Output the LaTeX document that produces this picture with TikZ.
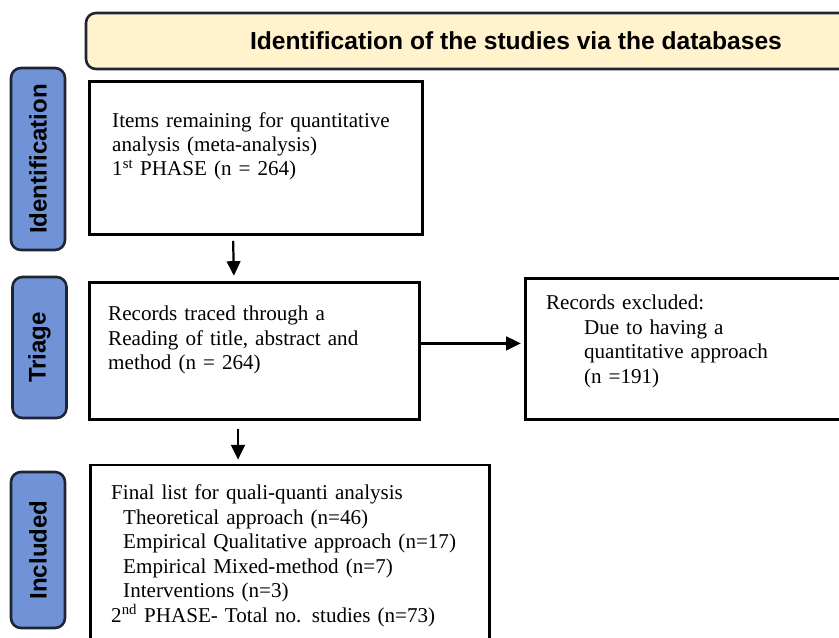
\documentclass[tikz,border=0pt]{standalone}
\usepackage{fontspec}
\setmainfont{Liberation Serif}
\newfontfamily\labelfont{Liberation Sans}
\usepackage{tikz}
\usetikzlibrary{arrows.meta,positioning,calc}

\definecolor{headfill}{RGB}{255,242,204}
\definecolor{sidefill}{RGB}{112,146,214}
\definecolor{sidedraw}{RGB}{30,36,52}

\begin{document}
\begin{tikzpicture}[
  x=0.03cm, y=-0.03cm,
  box/.style={draw, line width=2.4pt, anchor=north west, inner sep=0pt},
  txt/.style={anchor=base west, inner sep=0pt, align=left, text width=11.5cm,
    font=\fontsize{18}{20.9}\selectfont},
  side/.style={draw=sidedraw, line width=2.2pt, fill=sidefill, rounded corners=0.3cm,
    rotate=90, minimum height=1.62cm, font=\labelfont\bfseries\fontsize{20.5}{24}\selectfont},
  head/.style={draw=sidedraw, line width=2.2pt, fill=headfill, rounded corners=0.3cm,
    minimum width=25.8cm, minimum height=1.68cm, font=\labelfont\bfseries\fontsize{21}{25}\selectfont},
  arrow/.style={-{Triangle[length=0.44cm, width=0.41cm]}, line width=1.9pt}
]
  \useasboundingbox (0,0) rectangle (839,637);
  \clip (0,0) rectangle (839,637);

  % Header
  \node[head] (head) at (516,41) {Identification of the studies via the databases};

  % Phase labels
  \node[side, minimum width=5.46cm] (ident) at (38,159) {Identification};
  \node[side, minimum width=4.23cm] (triage) at (39.5,347.5) {Triage};
  \node[side, minimum width=4.68cm] (incl) at (38,550) {Included};

  % Boxes
  \node[box, minimum width=9.99cm, minimum height=4.59cm] (items) at (88,80) {};
  \node[box, below=1.35cm of items.south west, anchor=north west,
    minimum width=9.9cm, minimum height=4.11cm] (traced) {};
  \node[box, right=3.09cm of traced.north east, anchor=north west, yshift=0.12cm,
    minimum width=10.8cm, minimum height=4.23cm] (excl) {};
  \node[box, below=1.29cm of traced.south west, anchor=north west, xshift=0.03cm,
    minimum width=11.97cm, minimum height=7.5cm] (final) {};

  % Texts
  \node[txt] (itemstxt) at ($(items.north west)+(24,47)$)
    {Items remaining for quantitative\\analysis (meta-analysis)\\1\textsuperscript{st} PHASE (n = 264)};
  \node[txt] (tracedtxt) at ($(traced.north west)+(20,40)$)
    {Records traced through a\\Reading of title, abstract and\\method (n = 264)};
  \node[txt] (excltxt) at ($(excl.north west)+(22,33)$)
    {Records excluded:\\\hspace*{1.14cm}Due to having a\\\hspace*{1.14cm}quantitative approach\\\hspace*{1.14cm}(n =191)};
  \node[txt] (finaltxt) at ($(final.north west)+(22,36)$)
    {Final list for quali-quanti analysis\\
     \hspace*{0.36cm}Theoretical approach (n=46)\\
     \hspace*{0.36cm}Empirical Qualitative approach (n=17)\\
     \hspace*{0.36cm}Empirical Mixed-method (n=7)\\
     \hspace*{0.36cm}Interventions (n=3)\\
     2\textsuperscript{nd} PHASE- Total no. studies (n=73)};

  % Flow
  \draw[arrow, shorten <=0.15cm, shorten >=0.15cm]
    ([xshift=4.35cm]items.south west) -- ([xshift=4.38cm]traced.north west);
  \draw[arrow, shorten <=0.24cm, shorten >=0.12cm]
    ([xshift=4.5cm]traced.south west) -- ([xshift=4.47cm]final.north west);
  \draw[arrow, shorten >=0.09cm]
    ([yshift=0.22cm]traced.east) -- ([yshift=0.22cm]traced.east -| excl.west);
\end{tikzpicture}
\end{document}
